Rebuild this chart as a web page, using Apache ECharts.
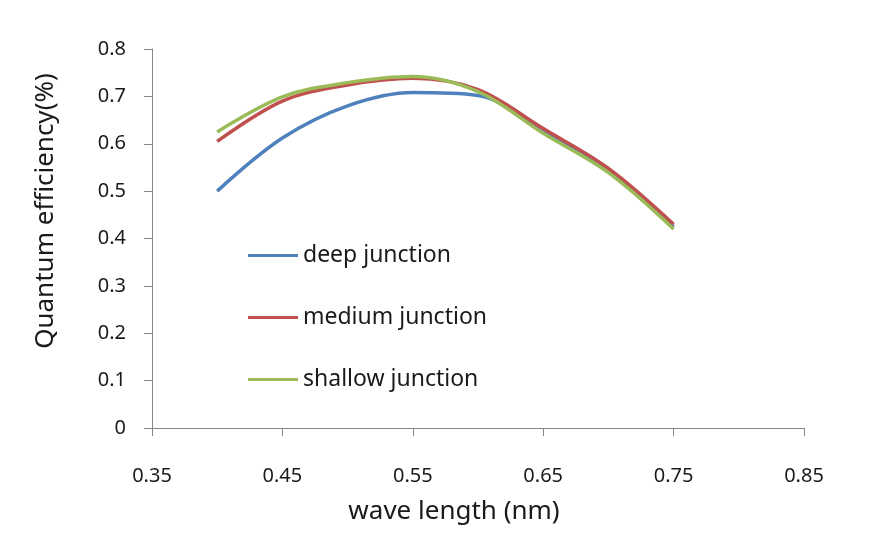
<!DOCTYPE html>
<html>
<head>
<meta charset="utf-8">
<script src="https://cdn.jsdelivr.net/npm/echarts@6/dist/echarts.min.js"></script>
<style>
html,body{margin:0;padding:0;background:#fff;}
#chart{width:873px;height:537px;}
</style>
</head>
<body>
<div id="chart"></div>
<script>
const wavelengths = [0.40, 0.45, 0.50, 0.55, 0.60, 0.65, 0.70, 0.75];
const deepJunction = [0.500, 0.612, 0.680, 0.708, 0.702, 0.627, 0.545, 0.425];
const mediumJunction = [0.605, 0.690, 0.724, 0.738, 0.714, 0.632, 0.548, 0.430];
const shallowJunction = [0.625, 0.699, 0.729, 0.742, 0.710, 0.622, 0.539, 0.420];
const seriesNames = ['deep junction', 'medium junction', 'shallow junction'];
const xTicks = ['0.35', '0.45', '0.55', '0.65', '0.75', '0.85'];
const yTicks = ['0', '0.1', '0.2', '0.3', '0.4', '0.5', '0.6', '0.7', '0.8'];

const colors = ['#4F81BD', '#C0504D', '#9BBB59'];
const font = 'Noto Sans';
const pairs = vals => wavelengths.map((x, i) => [x, vals[i]]);
const allSeries = [deepJunction, mediumJunction, shallowJunction];

const chart = echarts.init(document.getElementById('chart'));
chart.setOption({
  animation: false,
  backgroundColor: '#ffffff',
  color: colors,
  grid: { left: 152, right: 69, top: 49, bottom: 109 },
  legend: {
    orient: 'vertical',
    left: 243,
    top: 239,
    icon: 'rect',
    itemWidth: 50,
    itemHeight: 3,
    itemGap: 39,
    textStyle: { fontFamily: font, fontSize: 23, color: '#1a1a1a', lineHeight: 22 },
    data: seriesNames
  },
  xAxis: {
    type: 'value',
    min: 0.35,
    max: 0.85,
    interval: 0.1,
    name: 'wave length (nm)',
    nameLocation: 'middle',
    nameGap: 71,
    nameTextStyle: { fontFamily: font, fontSize: 26, color: '#1a1a1a', padding: [0, 48, 0, 0] },
    axisLine: { show: true, lineStyle: { color: '#868686', width: 1 } },
    axisTick: { show: true, inside: false, length: 8, lineStyle: { color: '#868686' } },
    axisLabel: {
      margin: 38,
      fontFamily: font, fontSize: 20, color: '#1a1a1a',
      formatter: v => xTicks[Math.round((v - 0.35) / 0.1)]
    },
    splitLine: { show: false }
  },
  yAxis: {
    type: 'value',
    min: 0,
    max: 0.8,
    interval: 0.1,
    name: 'Quantum efficiency(%)',
    nameLocation: 'middle',
    nameGap: 93,
    nameRotate: 90,
    nameTextStyle: { fontFamily: font, fontSize: 26, color: '#1a1a1a', padding: [0, 0, 0, 55] },
    axisLine: { show: true, lineStyle: { color: '#868686', width: 1 } },
    axisTick: { show: true, inside: false, length: 8, lineStyle: { color: '#868686' } },
    axisLabel: {
      margin: 26,
      fontFamily: font, fontSize: 20, color: '#1a1a1a',
      formatter: v => yTicks[Math.round(v / 0.1)]
    },
    splitLine: { show: false }
  },
  series: seriesNames.map((n, i) => ({
    name: n,
    type: 'line',
    smooth: 0.35,
    symbol: 'none',
    lineStyle: { width: 3.5, color: colors[i] },
    data: pairs(allSeries[i])
  }))
});
</script>
</body>
</html>
